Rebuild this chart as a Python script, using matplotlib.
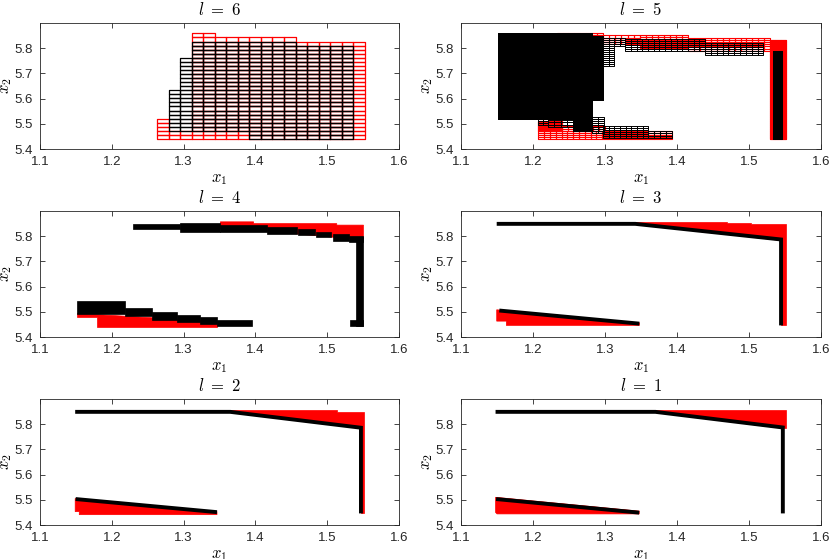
import matplotlib
matplotlib.use('Agg')
import matplotlib.pyplot as plt
from matplotlib.patches import Rectangle, Polygon
from matplotlib.collections import PatchCollection

plt.rcParams['font.family'] = ['Liberation Sans', 'DejaVu Sans']
plt.rcParams['mathtext.fontset'] = 'cm'

# ---------------- data ----------------
levels = [6, 5, 4, 3, 2, 1]
x_ticks = [1.1, 1.2, 1.3, 1.4, 1.5, 1.6]
y_ticks = [5.4, 5.5, 5.6, 5.7, 5.8]
x_range = (1.1, 1.6)
y_range = (5.4, 5.9)

# level 6: box columns (counts of boxes from the bottom row)
l6_x_start = 1.2631
l6_y_start = 5.44
l6_box_w = 0.01607
l6_box_h = 0.0161
l6_red_top = [5, 2, 2, 26, 26, 25, 25, 25, 25, 25, 25, 25, 24, 24, 24, 24, 24, 24]
l6_black_lo = [0, 2, 2, 2, 2, 2, 2, 2, 0, 0, 0, 0, 0, 0, 0, 0, 0, 0]
l6_black_hi = [0, 12, 20, 24, 24, 24, 24, 24, 24, 24, 24, 24, 23, 23, 23, 23, 23, 0]

# level 5: box regions (x0, x1, y0, y1)
l5_box_w = 0.008035
l5_box_h = 0.00805
l5_red = [(1.233, 1.297, 5.830, 5.859), (1.297, 1.3486, 5.815, 5.851),
          (1.3486, 1.415, 5.800, 5.851), (1.415, 1.529, 5.790, 5.842),
          (1.529, 1.552, 5.440, 5.832),
          (1.2074, 1.3926, 5.440, 5.470), (1.2074, 1.240, 5.470, 5.510),
          (1.240, 1.300, 5.470, 5.490)]
l5_red_solid = [False, False, False, False, True, False, True, False]
l5_black = [(1.151, 1.2815, 5.518, 5.862), (1.2815, 1.297, 5.595, 5.850),
            (1.297, 1.313, 5.728, 5.842), (1.313, 1.328, 5.808, 5.842),
            (1.328, 1.439, 5.788, 5.837), (1.439, 1.520, 5.773, 5.820),
            (1.5338, 1.5454, 5.440, 5.788),
            (1.207, 1.221, 5.495, 5.522), (1.221, 1.256, 5.487, 5.515),
            (1.256, 1.282, 5.472, 5.527), (1.282, 1.298, 5.465, 5.527),
            (1.297, 1.360, 5.445, 5.490), (1.360, 1.393, 5.445, 5.470)]
l5_black_solid = [True, True, False, False, False, False, True,
                  False, False, True, False, False, False]

# level 4: red regions (polygons) and black box blocks (x0, x1, y0, y1)
l4_red = [[(1.3512, 5.83), (1.3512, 5.857), (1.3975, 5.857), (1.3975, 5.850),
           (1.5133, 5.850), (1.5133, 5.844), (1.5505, 5.844), (1.5505, 5.79),
           (1.531, 5.79), (1.416, 5.82)],
          [(1.151, 5.495), (1.151, 5.4795), (1.1797, 5.4795), (1.1797, 5.440),
           (1.3465, 5.440), (1.3465, 5.462)]]
l4_black = [(1.2297, 1.2956, 5.8278, 5.8503), (1.2956, 1.3512, 5.8185, 5.8543),
            (1.3512, 1.416, 5.8172, 5.8437), (1.416, 1.4577, 5.8106, 5.8371),
            (1.460, 1.4832, 5.8053, 5.8278), (1.4846, 1.505, 5.796, 5.8185),
            (1.5078, 1.531, 5.7828, 5.8093), (1.531, 1.5504, 5.776, 5.800),
            (1.5402, 1.5504, 5.4424, 5.7974), (1.5319, 1.5504, 5.4424, 5.4662),
            (1.151, 1.2177, 5.4927, 5.5417), (1.2177, 1.2562, 5.4821, 5.5166),
            (1.2562, 1.2909, 5.4689, 5.4993), (1.2909, 1.3234, 5.4583, 5.4861),
            (1.3234, 1.3465, 5.4503, 5.4795), (1.3465, 1.3952, 5.4424, 5.4662)]

# levels 3, 2, 1: red regions (polygons) and black curves (polylines)
l3_red = [[(1.342, 5.849), (1.342, 5.857), (1.47, 5.857), (1.47, 5.851),
           (1.503, 5.851), (1.503, 5.847), (1.551, 5.847), (1.551, 5.446),
           (1.545, 5.446), (1.545, 5.786)],
          [(1.1496, 5.508), (1.3477, 5.456), (1.3477, 5.446), (1.163, 5.446),
           (1.163, 5.463), (1.1496, 5.463)]]
l3_black = [[(1.1496, 5.849), (1.342, 5.849), (1.5445, 5.787), (1.5445, 5.446)],
            [(1.1532, 5.505), (1.3477, 5.453)]]

l2_red = [[(1.365, 5.849), (1.365, 5.857), (1.513, 5.857), (1.513, 5.850),
           (1.551, 5.850), (1.551, 5.446), (1.547, 5.446), (1.547, 5.786)],
          [(1.149, 5.505), (1.3465, 5.453), (1.3465, 5.441), (1.1547, 5.441),
           (1.1547, 5.453), (1.149, 5.453)]]
l2_black = [[(1.149, 5.849), (1.365, 5.849), (1.547, 5.786), (1.547, 5.446)],
            [(1.1496, 5.503), (1.3465, 5.451)]]

l1_red = [[(1.37, 5.849), (1.37, 5.857), (1.551, 5.857), (1.551, 5.786),
           (1.547, 5.786)],
          [(1.148, 5.510), (1.3475, 5.455), (1.3475, 5.444), (1.150, 5.444),
           (1.148, 5.450)]]
l1_black = [[(1.148, 5.849), (1.37, 5.849), (1.547, 5.787), (1.547, 5.446)],
            [(1.1487, 5.503), (1.3475, 5.449)]]

RED = '#ff0000'
BLACK = '#000000'
AX_COL = '#262626'

# ---------------- figure ----------------
fig = plt.figure(figsize=(8.3, 5.59), dpi=100)
W, H = 830.0, 559.0
col_left = [40, 461]
col_width = [359, 360]
row_bottom = [149, 337, 525]
ax_h = 126

axes = []
for k in range(6):
    r, c = divmod(k, 2)
    ax = fig.add_axes([col_left[c] / W, 1 - row_bottom[r] / H,
                       col_width[c] / W, ax_h / H])
    axes.append(ax)


def style(ax, lev):
    ax.set_xlim(*x_range)
    ax.set_ylim(*y_range)
    ax.set_xticks(x_ticks)
    ax.set_yticks(y_ticks)
    ax.set_xticklabels([f'{v:.1f}' for v in x_ticks])
    ax.set_yticklabels([f'{v:.1f}' for v in y_ticks])
    ax.tick_params(direction='in', top=True, right=True, length=3.5,
                   width=0.6, color=AX_COL, labelcolor=AX_COL,
                   labelsize=9.5, pad=5)
    for s in ax.spines.values():
        s.set_color(AX_COL)
        s.set_linewidth(0.6)
    ax.set_title(rf'$l\ =\ {lev}$', fontsize=12, pad=6, color='black')
    ax.set_xlabel(r'$x_1$', fontsize=12, labelpad=3)
    ax.set_ylabel(r'$x_2$', fontsize=12, labelpad=0.5)


def grid_boxes(ax, x0, x1, y0, y1, bw, bh, color, lw, solid=False):
    nx = max(1, round((x1 - x0) / bw))
    ny = max(1, round((y1 - y0) / bh))
    w = (x1 - x0) / nx
    h = (y1 - y0) / ny
    if solid:
        ax.add_patch(Rectangle((x0, y0), x1 - x0, y1 - y0, facecolor=color,
                               edgecolor=color, linewidth=lw))
    rects = [Rectangle((x0 + i * w, y0 + j * h), w, h)
             for i in range(nx) for j in range(ny)]
    ax.add_collection(PatchCollection(rects, facecolor='none',
                                      edgecolor=color, linewidth=lw))


# level 6
ax = axes[0]
red_rects, black_rects = [], []
for i, top in enumerate(l6_red_top):
    x = l6_x_start + i * l6_box_w
    for j in range(top):
        red_rects.append(Rectangle((x, l6_y_start + j * l6_box_h), l6_box_w, l6_box_h))
    for j in range(l6_black_lo[i], l6_black_hi[i]):
        black_rects.append(Rectangle((x, l6_y_start + j * l6_box_h), l6_box_w, l6_box_h))
ax.add_collection(PatchCollection(red_rects, facecolor='none', edgecolor=RED, linewidth=0.9))
ax.add_collection(PatchCollection(black_rects, facecolor='none', edgecolor=BLACK, linewidth=0.9))
style(ax, levels[0])

# level 5
ax = axes[1]
for (x0, x1, y0, y1), solid in zip(l5_red, l5_red_solid):
    grid_boxes(ax, x0, x1, y0, y1, l5_box_w, l5_box_h, RED, 0.8, solid)
for (x0, x1, y0, y1), solid in zip(l5_black, l5_black_solid):
    grid_boxes(ax, x0, x1, y0, y1, l5_box_w, l5_box_h, BLACK, 0.7, solid)
style(ax, levels[1])

# level 4
ax = axes[2]
for poly in l4_red:
    ax.add_patch(Polygon(poly, closed=True, facecolor=RED, edgecolor=RED, linewidth=0.5))
for (x0, x1, y0, y1) in l4_black:
    ax.add_patch(Rectangle((x0, y0), x1 - x0, y1 - y0, facecolor=BLACK,
                           edgecolor=BLACK, linewidth=0.5))
style(ax, levels[2])

# levels 3, 2, 1
for ax, lev, reds, blacks in [(axes[3], levels[3], l3_red, l3_black),
                              (axes[4], levels[4], l2_red, l2_black),
                              (axes[5], levels[5], l1_red, l1_black)]:
    for poly in reds:
        ax.add_patch(Polygon(poly, closed=True, facecolor=RED, edgecolor=RED, linewidth=0.5))
    for line in blacks:
        xs = [p[0] for p in line]
        ys = [p[1] for p in line]
        ax.plot(xs, ys, color=BLACK, linewidth=2.8, solid_capstyle='butt',
                solid_joinstyle='miter')
    style(ax, lev)

fig.savefig('out.png', dpi=100)
